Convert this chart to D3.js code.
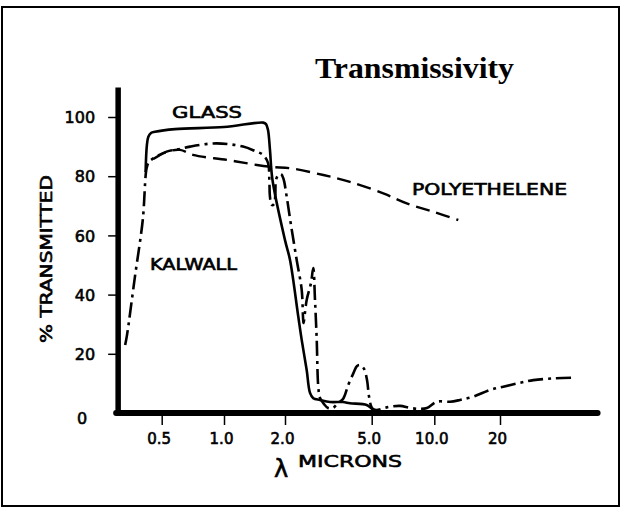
<!DOCTYPE html>
<html>
<head>
<meta charset="utf-8">
<script src="https://cdn.jsdelivr.net/npm/d3@7"></script>
<style>
  html, body { margin: 0; padding: 0; background: #fff; }
  svg { display: block; }
  .hand { font-family: "DejaVu Sans", sans-serif; fill: #000; stroke: #000; stroke-width: 0.6px; }
</style>
</head>
<body>
<svg id="chart" width="624" height="509"></svg>
<script>
// ---------- data (wavelength in microns, % transmitted) ----------
const xTicks = [0.5, 1, 2, 5, 10, 20];
const xTickLabels = ["0.5", "1.0", "2.0", "5.0", "10.0", "20"];
const yTicks = [0, 20, 40, 60, 80, 100];
const xExtent = [0.308, 56];
const yMax = 110;

const glassX = [0.418, 0.424, 0.431, 0.444, 0.464, 0.58, 1.0, 1.563, 1.612, 1.649, 1.686, 1.735, 2.0, 2.109, 2.302, 2.386, 2.515, 2.605, 2.696, 2.896, 3.218, 3.692, 3.974, 4.742, 5.017, 5.24];
const glassY = [81.4, 90.5, 93.3, 94.6, 95.0, 95.9, 96.6, 98.1, 97.6, 95.6, 88.9, 78.7, 58.4, 51.7, 32.5, 24.7, 14.5, 6.8, 5.0, 4.4, 3.7, 3.7, 3.3, 2.7, 1.4, 0.7];

const kalwallX = [0.333, 0.340, 0.371, 0.405, 0.423, 0.434, 0.455, 0.528, 0.613, 0.685, 0.922, 1.241, 1.422, 1.558, 1.649, 1.674, 1.686, 1.719, 1.765, 1.791, 1.805, 1.853, 1.911, 1.962, 2.036, 2.131, 2.263, 2.386, 2.419, 2.432, 2.515, 2.632, 2.696, 2.746, 2.797, 2.843, 2.896, 3.021, 3.151, 3.321, 3.503, 3.692, 3.904, 4.117, 4.281, 4.419, 4.611, 4.761, 4.863, 5.017, 5.24, 5.903, 6.84, 7.64, 8.54, 9.22, 10.25, 11.8, 13.11, 15.09, 18.0, 20.71, 24.7, 28.42, 35.1, 42.6];
const kalwallY = [23.0, 26.4, 45.9, 65.2, 82.8, 84.8, 86.0, 88.3, 89.2, 90.0, 91.1, 90.0, 88.5, 87.2, 84.5, 78.7, 73.0, 70.3, 70.6, 73.6, 78.7, 80.4, 80.7, 79.3, 73.1, 63.5, 51.7, 41.6, 32.5, 30.4, 38.2, 43.9, 49.0, 38.2, 24.7, 8.9, 5.1, 3.0, 1.7, 1.7, 3.4, 4.7, 9.5, 13.4, 15.9, 16.2, 14.9, 11.1, 5.5, 1.7, 1.0, 1.9, 2.4, 1.7, 1.4, 1.7, 3.8, 3.8, 4.4, 5.5, 7.8, 8.9, 10.2, 11.1, 11.7, 11.9];

const polyX = [0.455, 0.528, 0.613, 0.708, 1.035, 1.455, 1.745, 2.109, 2.999, 3.974, 5.685, 7.37, 9.89, 12.88];
const polyY = [85.8, 88.2, 88.9, 87.2, 85.5, 83.8, 83.1, 82.7, 80.4, 78.1, 74.2, 70.8, 68.0, 65.2];

// ---------- layout ----------
const svg = d3.select("#chart");

const x = d3.scaleLog()
  .domain(xTicks)
  .range([161.7, 224, 285, 371.7, 434.3, 500]);
const y = d3.scaleLinear().domain([0, yMax]).range([413, 87.4]);

// outer frame
svg.append("rect")
  .attr("x", 2).attr("y", 7).attr("width", 617).attr("height", 499)
  .attr("fill", "none").attr("stroke", "#000").attr("stroke-width", 2);

// title
svg.append("text")
  .attr("x", 315).attr("y", 78)
  .attr("textLength", 199).attr("lengthAdjust", "spacingAndGlyphs")
  .style("font-family", "'Liberation Serif', 'DejaVu Serif', serif")
  .style("font-weight", "bold").style("font-size", "29px")
  .text("Transmissivity");

// axes lines (thick)
svg.append("line")
  .attr("x1", x(xExtent[0])).attr("x2", x(xExtent[0]))
  .attr("y1", y(yMax)).attr("y2", y(0) + 2)
  .attr("stroke", "#000").attr("stroke-width", 5.5);
svg.append("line")
  .attr("x1", x(xExtent[0]) - 2).attr("x2", x(xExtent[1]))
  .attr("y1", y(0)).attr("y2", y(0))
  .attr("stroke", "#000").attr("stroke-width", 6).attr("stroke-linecap", "round");

// y axis ticks & labels
const yAxis = d3.axisLeft(y)
  .tickValues(yTicks)
  .tickSize(8)
  .tickPadding(13)
  .tickFormat(d3.format("d"));
const gy = svg.append("g").attr("transform", `translate(${x(xExtent[0]) - 2},0)`).call(yAxis);
gy.select(".domain").remove();
gy.selectAll(".tick line").attr("stroke-width", 1.5)
  .filter(d => d === 0).remove();
gy.selectAll(".tick text")
  .attr("class", "hand")
  .style("font-size", "16px")
  .attr("dy", d => d === 0 ? "0.65em" : "0.35em")
  .attr("dx", d => d === 0 ? -8 : 0);

// x axis ticks & labels
const xAxis = d3.axisBottom(x)
  .tickValues(xTicks)
  .tickSize(12)
  .tickPadding(8)
  .tickFormat((d, i) => xTickLabels[i]);
const gx = svg.append("g").attr("transform", `translate(0,${y(0)})`).call(xAxis);
gx.select(".domain").remove();
gx.selectAll(".tick line").attr("stroke-width", 1.5);
gx.selectAll(".tick text")
  .attr("class", "hand")
  .attr("dx", -3)
  .style("font-size", "15px");

// axis titles
svg.append("text").attr("class", "hand")
  .attr("x", 274).attr("y", 477)
  .style("font-size", "24px")
  .text("λ");
svg.append("text").attr("class", "hand")
  .attr("x", 298).attr("y", 467)
  .attr("textLength", 104).attr("lengthAdjust", "spacingAndGlyphs")
  .style("font-size", "16px")
  .text("MICRONS");
svg.append("text").attr("class", "hand")
  .attr("transform", "translate(52,259) rotate(-90)")
  .attr("text-anchor", "middle")
  .attr("textLength", 168).attr("lengthAdjust", "spacingAndGlyphs")
  .style("font-size", "16px")
  .text("% TRANSMITTED");

// series labels
svg.append("text").attr("class", "hand")
  .attr("x", 172).attr("y", 118)
  .attr("textLength", 70).attr("lengthAdjust", "spacingAndGlyphs")
  .style("font-size", "15px").text("GLASS");
svg.append("text").attr("class", "hand")
  .attr("x", 412).attr("y", 195)
  .attr("textLength", 155).attr("lengthAdjust", "spacingAndGlyphs")
  .style("font-size", "15px").text("POLYETHELENE");
svg.append("text").attr("class", "hand")
  .attr("x", 150).attr("y", 270)
  .attr("textLength", 87).attr("lengthAdjust", "spacingAndGlyphs")
  .style("font-size", "15px").text("KALWALL");

// curves
const line = d3.line()
  .x(d => x(d[0]))
  .y(d => y(d[1]))
  .curve(d3.curveCatmullRom.alpha(0.5));

function series(xs, ys) { return xs.map((v, i) => [v, ys[i]]); }

svg.append("path")
  .datum(series(polyX, polyY))
  .attr("d", line)
  .attr("fill", "none").attr("stroke", "#000")
  .attr("stroke-width", 2.4)
  .attr("stroke-dasharray", "14,7");

svg.append("path")
  .datum(series(kalwallX, kalwallY))
  .attr("d", line)
  .attr("fill", "none").attr("stroke", "#000")
  .attr("stroke-width", 2.6)
  .attr("stroke-dasharray", "15,5,3,5");

svg.append("path")
  .datum(series(glassX, glassY))
  .attr("d", line)
  .attr("fill", "none").attr("stroke", "#000")
  .attr("stroke-width", 2.6)
  .attr("stroke-linejoin", "round");
</script>
</body>
</html>
